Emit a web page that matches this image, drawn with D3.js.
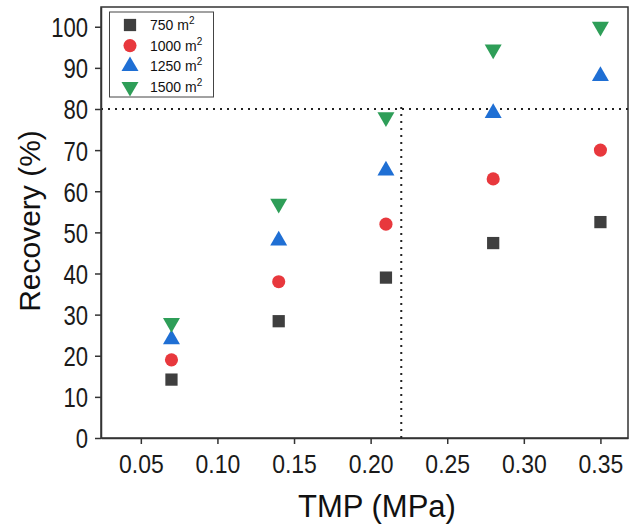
<!DOCTYPE html>
<html><head><meta charset="utf-8">
<script src="https://cdn.jsdelivr.net/npm/d3@7"></script>
<style>body{margin:0;background:#fff}svg{display:block}</style>
</head><body>
<script>
const tmp = [0.07, 0.14, 0.21, 0.28, 0.35];
const s750 = [14.2, 28.4, 39.0, 47.4, 52.5];
const s1000 = [19.0, 38.0, 52.0, 63.0, 70.0];
const s1250 = [24.0, 48.0, 65.0, 79.0, 88.0];
const s1500 = [28.0, 57.0, 78.0, 94.5, 100.0];
const seriesNames = ["750", "1000", "1250", "1500"];
const xTicks = [0.05, 0.10, 0.15, 0.20, 0.25, 0.30, 0.35];
const yTicks = [0, 10, 20, 30, 40, 50, 60, 70, 80, 90, 100];
const hLineY = 80;
const vLineX = 0.22;

const W = 631, H = 527;
const m = {l: 101, r: 3, t: 7, b: 89};
const svg = d3.select("body").append("svg").attr("width", W).attr("height", H);
const x = d3.scaleLinear().domain([0.024, 0.368]).range([m.l, W - m.r]);
const y = d3.scaleLinear().domain([0, 104.8]).range([H - m.b, m.t]);
const axisCol = "#333";
const FONT = "Arial, 'Liberation Sans', sans-serif";

// frame
svg.append("rect").attr("x", m.l).attr("y", m.t).attr("width", W - m.r - m.l).attr("height", H - m.b - m.t)
  .attr("fill", "none").attr("stroke", axisCol).attr("stroke-width", 1.5);

// dotted reference lines
svg.append("line").attr("x1", x(0.024)).attr("x2", x(0.368)).attr("y1", y(hLineY)).attr("y2", y(hLineY))
  .attr("stroke", "#222").attr("stroke-width", 2).attr("stroke-dasharray", "2,5");
svg.append("line").attr("x1", x(vLineX)).attr("x2", x(vLineX)).attr("y1", y(0)).attr("y2", y(81))
  .attr("stroke", "#222").attr("stroke-width", 2).attr("stroke-dasharray", "2,5");

const gx = svg.append("g").attr("transform", `translate(0,${H - m.b})`)
  .call(d3.axisBottom(x).tickValues(xTicks).tickFormat(d3.format(".2f")).tickSize(6).tickSizeOuter(0));
const gy = svg.append("g").attr("transform", `translate(${m.l},0)`)
  .call(d3.axisLeft(y).tickValues(yTicks).tickSize(6).tickSizeOuter(0));
[gx, gy].forEach(g => {
  g.select(".domain").attr("stroke", axisCol).attr("stroke-width", 1.5);
  g.selectAll(".tick line").attr("stroke", axisCol).attr("stroke-width", 1.5);
  g.selectAll("text").attr("fill", "#1a1a1a").style("font-family", FONT).style("font-size", "23px");
});
gx.selectAll("text").attr("y", 0).attr("dy", 0).attr("transform", "translate(0,35) scale(1,1.12)");
gy.selectAll("text").attr("x", 0).attr("dy", "0.36em").attr("transform", "translate(-13,0) scale(0.96,1.2)");

svg.append("text").attr("x", 377).attr("y", 517).attr("text-anchor", "middle")
  .style("font-family", FONT).style("font-size", "31px").attr("fill", "#111").text("TMP (MPa)");
svg.append("text").attr("transform", `translate(40,221) rotate(-90)`).attr("text-anchor", "middle")
  .style("font-family", FONT).style("font-size", "30px").attr("fill", "#111").text("Recovery (%)");

const series = [
  {name: seriesNames[0], vals: s750, color: "#3f3f3f", sym: d3.symbolSquare, size: 150, rot: 0},
  {name: seriesNames[1], vals: s1000, color: "#e8383d", sym: d3.symbolCircle, size: 135, rot: 0},
  {name: seriesNames[2], vals: s1250, color: "#1f6fd4", sym: d3.symbolTriangle, size: 125, rot: 0},
  {name: seriesNames[3], vals: s1500, color: "#2e9e58", sym: d3.symbolTriangle, size: 125, rot: 180},
];
series.forEach(s => {
  svg.append("g").selectAll("path").data(s.vals).join("path")
    .attr("d", d3.symbol().type(s.sym).size(s.size))
    .attr("transform", (d, i) => `translate(${x(tmp[i])},${y(d)}) rotate(${s.rot})`)
    .attr("fill", s.color);
});

// legend
const lg = svg.append("g");
lg.append("rect").attr("x", 109.5).attr("y", 12).attr("width", 104).attr("height", 85)
  .attr("fill", "#fff").attr("stroke", "#444").attr("stroke-width", 1);
series.forEach((s, i) => {
  const base = 30 + i * 20.6;
  lg.append("path").attr("d", d3.symbol().type(s.sym).size(s.size))
    .attr("transform", `translate(130,${base - 5}) rotate(${s.rot})`)
    .attr("fill", s.color);
  const t = lg.append("text").attr("x", 150).attr("y", base)
    .style("font-family", FONT).style("font-size", "14px").attr("fill", "#111");
  t.append("tspan").text(s.name + " m");
  t.append("tspan").attr("dy", "-6").style("font-size", "10px").text("2");
});
</script>
</body></html>
